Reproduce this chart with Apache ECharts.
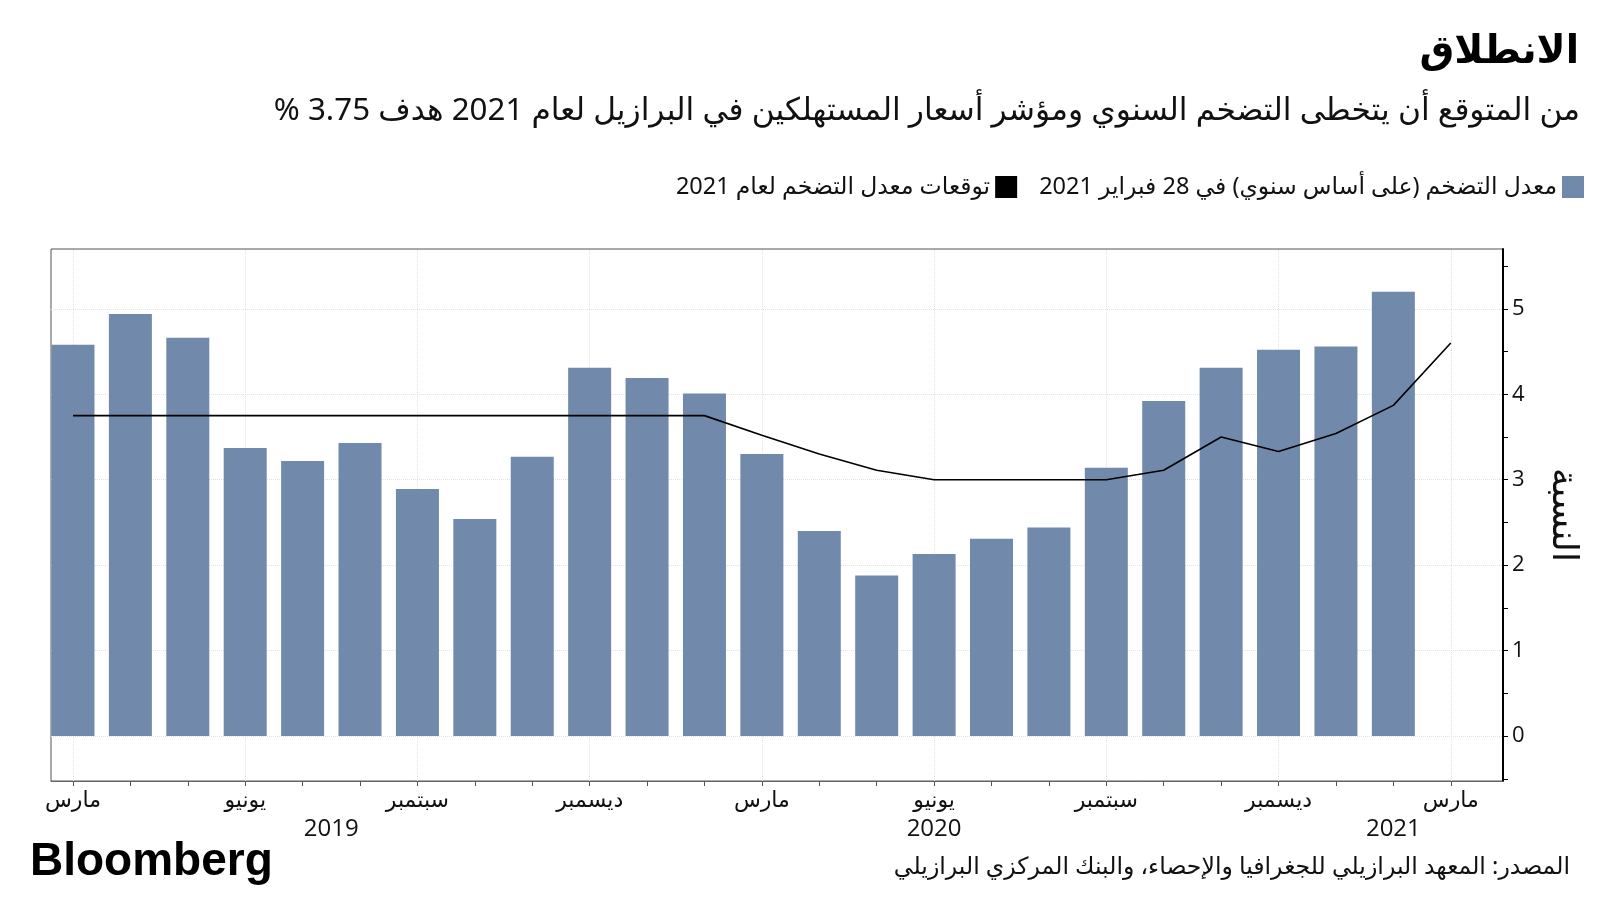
<!DOCTYPE html>
<html dir="rtl">
<head>
<meta charset="utf-8">
<script src="https://cdn.jsdelivr.net/npm/echarts@6/dist/echarts.min.js"></script>
<style>html,body{margin:0;padding:0;background:#fff;}#c{width:1600px;height:900px;}</style>
</head>
<body>
<div id="c"></div>
<script>
// ---- data ----
var monthLabels = ['مارس','يونيو','سبتمبر','ديسمبر','مارس','يونيو','سبتمبر','ديسمبر','مارس'];
var monthLabelIdx = [0,3,6,9,12,15,18,21,24];
var monthTickIdx = [0,1,2,3,4,5,6,7,8,9,10,11,12,13,14,15,16,17,18,19,20,21,22,23,24];
var yearLabels = ['2019','2020','2021'];
var yearLabelIdx = [4.5,15,23];
var inflation = [4.58,4.94,4.66,3.37,3.22,3.43,2.89,2.54,3.27,4.31,4.19,4.01,3.30,2.40,1.88,2.13,2.31,2.44,3.14,3.92,4.31,4.52,4.56,5.20];
var forecast2021 = [3.75,3.75,3.75,3.75,3.75,3.75,3.75,3.75,3.75,3.75,3.75,3.75,3.52,3.30,3.11,3.00,3.00,3.00,3.00,3.11,3.50,3.33,3.54,3.87,4.60];
var yTickLabels = [0,1,2,3,4,5];
var yMinorTicks = [-0.5,0,0.5,1,1.5,2,2.5,3,3.5,4,4.5,5,5.5];
var seriesNames = ['معدل التضخم (على أساس سنوي) في 28 فبراير 2021','توقعات معدل التضخم لعام 2021'];
var titleText = 'الانطلاق';
var subtitleText = 'من المتوقع أن يتخطى التضخم السنوي ومؤشر أسعار المستهلكين في البرازيل لعام 2021 هدف 3.75 %';
var sourceText = 'المصدر: المعهد البرازيلي للجغرافيا والإحصاء، والبنك المركزي البرازيلي';
var yName = 'النسبة';

// ---- build ----
var barData = inflation.map(function(v,i){return [i,v];});
var lineData = forecast2021.map(function(v,i){return [i,v];});
var gridMarks = monthLabelIdx.map(function(v){return {xAxis:v};}).concat(yTickLabels.map(function(v){return {yAxis:v};}));
var FONT = '"Noto Sans", "DejaVu Sans", sans-serif';

var chart = echarts.init(document.getElementById('c'), null, {renderer:'canvas'});
chart.setOption({
  animation:false,
  backgroundColor:'#fff',
  textStyle:{fontFamily:FONT},
  title:[
    {text:titleText, right:16, top:27, textStyle:{fontSize:39, fontWeight:'bold', color:'#000', fontFamily:FONT}},
    {text:subtitleText, right:15, top:91, textStyle:{fontSize:31.3, fontWeight:'normal', color:'#111', fontFamily:FONT}},
    {text:'Bloomberg', left:25, top:834, textStyle:{fontSize:46, fontWeight:'bold', color:'#000', fontFamily:'"Liberation Sans", Arial, sans-serif'}},
    {text:sourceText, right:25, top:850, textStyle:{fontSize:23.6, fontWeight:'normal', color:'#111', fontFamily:FONT}}
  ],
  legend:{
    right:16, top:175, padding:0, align:'right', itemWidth:22, itemHeight:22, itemGap:22, icon:'rect',
    data:[{name:seriesNames[1]},{name:seriesNames[0]}],
    textStyle:{fontSize:23.5, color:'#111', fontFamily:FONT, padding:[0,0,0,0]}
  },
  grid:{left:51, right:97, top:249, bottom:119, show:true, borderColor:'#555', borderWidth:1, backgroundColor:'#fff'},
  xAxis:[{
    type:'value', min:-0.383, max:24.91, position:'bottom',
    axisLine:{show:true, onZero:false, lineStyle:{color:'#666', width:1}},
    axisTick:{show:true, customValues:monthTickIdx, length:5, lineStyle:{color:'#555'}},
    axisLabel:{show:true, customValues:monthLabelIdx, margin:9, fontSize:22, color:'#111', fontFamily:FONT,
      formatter:function(v){var k=monthLabelIdx.indexOf(Math.round(v)); return k>=0?monthLabels[k]:'';}},
    splitLine:{show:false}
  },{
    type:'value', min:-0.383, max:24.91, position:'bottom', offset:30,
    axisLine:{show:false}, axisTick:{show:false}, splitLine:{show:false},
    axisLabel:{show:true, customValues:yearLabelIdx, margin:6, fontSize:24, color:'#111', fontFamily:'"Open Sans", sans-serif',
      formatter:function(v){var k=yearLabelIdx.indexOf(v); return k>=0?yearLabels[k]:'';}}
  }],
  yAxis:{
    type:'value', min:-0.526, max:5.70, position:'right',
    name:yName, nameLocation:'middle', nameRotate:-90, nameGap:42,
    nameTextStyle:{fontSize:36, color:'#111', fontFamily:FONT},
    axisLine:{show:true, onZero:false, lineStyle:{color:'#000', width:2}},
    axisTick:{show:true, customValues:yMinorTicks, length:5, lineStyle:{color:'#000'}},
    axisLabel:{show:true, customValues:yTickLabels, margin:9, fontSize:22, color:'#111', fontFamily:'"Open Sans", sans-serif'},
    splitLine:{show:false}
  },
  series:[
    {type:'line', data:[], silent:true, z:1, xAxisIndex:0,
      markLine:{silent:true, z:1, symbol:['none','none'], label:{show:false},
        lineStyle:{type:'dotted', color:'#e2e2e2', width:1}, data:gridMarks}},
    {name:seriesNames[0], type:'bar', data:barData, barWidth:43, z:2, xAxisIndex:0,
      itemStyle:{color:'#7189AB'}},
    {name:seriesNames[1], type:'line', data:lineData, z:3, xAxisIndex:0, symbol:'none',
      color:'#000', lineStyle:{color:'#000', width:1.6}, itemStyle:{color:'#000'}}
  ]
});
</script>
</body>
</html>
